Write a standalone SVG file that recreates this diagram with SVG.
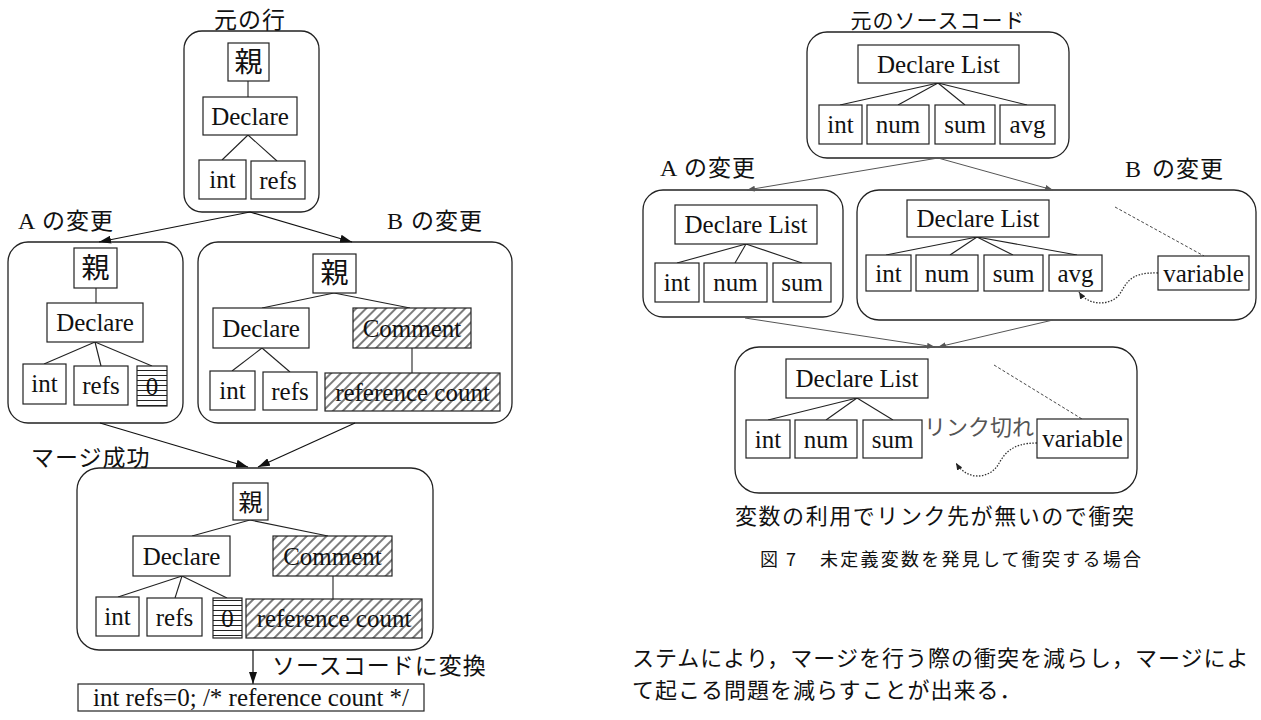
<svg xmlns="http://www.w3.org/2000/svg" width="1261" height="720" viewBox="0 0 1261 720">
<style>
.bg{fill:#fff}
.cont{fill:#fff;stroke:#222;stroke-width:1.3}
.box{fill:#fff;stroke:#222;stroke-width:1.2}
.hb{fill:url(#hatch);stroke:#222;stroke-width:1.2}
.sb{fill:url(#stripes);stroke:#222;stroke-width:1.2}
.t{font-family:"Liberation Serif","Times New Roman",serif;font-size:25px;text-anchor:middle;fill:#111}
.tl{font-family:"Liberation Serif","Times New Roman",serif;font-size:25px;fill:#111}
.kj{font-family:"Noto Sans CJK JP","Noto Sans CJK SC",sans-serif;font-size:28px;text-anchor:middle;fill:#111}
.jp{font-family:"Noto Sans CJK JP","Noto Sans CJK SC",sans-serif;font-size:23px;letter-spacing:1px;fill:#111}
.ln{stroke:#222;stroke-width:1.1;fill:none}
.arr{stroke:#111;stroke-width:1.2;fill:none;marker-end:url(#ah)}
.arr2{stroke:#555;stroke-width:1;fill:none;marker-end:url(#ah2)}
.dash{stroke:#333;stroke-width:0.9;stroke-dasharray:3 2;fill:none}
.dot{stroke:#333;stroke-width:1.3;stroke-dasharray:1.5 1.5;fill:none;marker-end:url(#ah3)}
</style>
<defs>
<pattern id="hatch" patternUnits="userSpaceOnUse" width="7" height="7" patternTransform="rotate(45)">
<rect width="7" height="7" fill="#fff"/>
<line x1="1" y1="0" x2="1" y2="7" stroke="#111" stroke-width="1.1"/>
</pattern>
<pattern id="stripes" patternUnits="userSpaceOnUse" width="6" height="5">
<rect width="6" height="5" fill="#fff"/>
<line x1="0" y1="0.5" x2="6" y2="0.5" stroke="#222" stroke-width="1"/>
</pattern>
<marker id="ah" viewBox="0 0 12 8" refX="12" refY="4" markerWidth="12" markerHeight="8" markerUnits="userSpaceOnUse" orient="auto"><path d="M0,0 L12,4 L0,8 z" fill="#111"/></marker>
<marker id="ah2" viewBox="0 0 8 6" refX="8" refY="3" markerWidth="8" markerHeight="6" markerUnits="userSpaceOnUse" orient="auto"><path d="M0,0 L8,3 L0,6 z" fill="#555"/></marker>
<marker id="ah3" viewBox="0 0 7 6" refX="7" refY="3" markerWidth="7" markerHeight="6" markerUnits="userSpaceOnUse" orient="auto"><path d="M0,0 L7,3 L0,6 z" fill="#222"/></marker>
</defs>
<rect class="bg" x="0" y="0" width="1261" height="720"/>

<!-- containers -->
<g id="L-orig"><rect class="cont" x="184" y="31" width="135" height="181" rx="18"/></g>
<g id="L-A"><rect class="cont" x="8" y="242" width="175" height="181" rx="20"/></g>
<g id="L-B"><rect class="cont" x="198" y="242" width="314" height="181" rx="20"/></g>
<g id="L-merge"><rect class="cont" x="77" y="468" width="356" height="182" rx="22"/></g>
<g id="R-orig"><rect class="cont" x="807" y="32" width="262" height="126" rx="20"/></g>
<g id="R-A"><rect class="cont" x="643" y="190" width="200" height="127" rx="20"/></g>
<g id="R-B"><rect class="cont" x="857" y="190" width="399" height="130" rx="22"/></g>
<g id="R-merge"><rect class="cont" x="735" y="347" width="402" height="146" rx="24"/></g>

<!-- connectors -->
<g id="connectors">
<line class="ln" x1="248" y1="81" x2="248" y2="97"/>
<line class="ln" x1="248" y1="135" x2="222" y2="160"/>
<line class="ln" x1="248" y1="135" x2="277" y2="161"/>
<line class="arr" x1="250" y1="212" x2="99" y2="242"/>
<line class="arr" x1="250" y1="212" x2="352" y2="242"/>
<line class="ln" x1="96" y1="288" x2="96" y2="303"/>
<line class="ln" x1="95" y1="342" x2="44" y2="364"/>
<line class="ln" x1="95" y1="342" x2="101" y2="366"/>
<line class="ln" x1="95" y1="342" x2="152" y2="366"/>
<line class="ln" x1="334" y1="293" x2="262" y2="308"/>
<line class="ln" x1="334" y1="293" x2="410" y2="308"/>
<line class="ln" x1="262" y1="348" x2="232" y2="371"/>
<line class="ln" x1="262" y1="348" x2="290" y2="372"/>
<line class="ln" x1="412" y1="348" x2="412" y2="373"/>
<line class="arr" x1="100" y1="423" x2="248" y2="467"/>
<line class="arr" x1="355" y1="423" x2="258" y2="467"/>
<line class="ln" x1="250" y1="520" x2="192" y2="536"/>
<line class="ln" x1="250" y1="520" x2="328" y2="536"/>
<line class="ln" x1="182" y1="576" x2="118" y2="597"/>
<line class="ln" x1="182" y1="576" x2="175" y2="598"/>
<line class="ln" x1="182" y1="576" x2="227" y2="598"/>
<line class="ln" x1="333" y1="576" x2="333" y2="599"/>
<line class="arr" x1="253" y1="650" x2="253" y2="684"/>

<line class="ln" x1="938" y1="83" x2="840" y2="105"/>
<line class="ln" x1="938" y1="83" x2="898" y2="105"/>
<line class="ln" x1="938" y1="83" x2="965" y2="105"/>
<line class="ln" x1="938" y1="83" x2="1027" y2="105"/>
<line class="arr2" x1="938" y1="158" x2="747" y2="190"/>
<line class="arr2" x1="938" y1="158" x2="1053" y2="190"/>
<line class="ln" x1="746" y1="244" x2="677" y2="263"/>
<line class="ln" x1="746" y1="244" x2="735" y2="263"/>
<line class="ln" x1="746" y1="244" x2="802" y2="263"/>
<line class="ln" x1="977" y1="237" x2="886" y2="255"/>
<line class="ln" x1="977" y1="237" x2="950" y2="255"/>
<line class="ln" x1="977" y1="237" x2="1013" y2="255"/>
<line class="ln" x1="977" y1="237" x2="1077" y2="255"/>
<line class="dash" x1="1115" y1="207" x2="1204" y2="256"/>
<path class="dot" d="M1158,273 C1128,272 1127,284 1119,295 C1110,306 1088,306 1079,292"/>
<line class="arr2" x1="745" y1="318" x2="935" y2="347"/>
<line class="arr2" x1="1053" y1="320" x2="938" y2="347"/>
<line class="ln" x1="857" y1="398" x2="768" y2="420"/>
<line class="ln" x1="857" y1="398" x2="826" y2="420"/>
<line class="ln" x1="857" y1="398" x2="893" y2="420"/>
<line class="dash" x1="994" y1="365" x2="1082" y2="419"/>
<path class="dot" d="M1037,443 C1010,443 1004,455 998,465 C990,478 968,482 956,463"/>
</g>

<!-- left: original -->
<g id="L-orig-parent"><rect class="box" x="228" y="43" width="41" height="38"/><text class="kj" x="248.5" y="72">親</text></g>
<g id="L-orig-declare"><rect class="box" x="203" y="97" width="94" height="38"/><text class="t" x="250" y="125">Declare</text></g>
<g id="L-orig-int"><rect class="box" x="199" y="160" width="47" height="39"/><text class="t" x="222.5" y="188">int</text></g>
<g id="L-orig-refs"><rect class="box" x="251" y="161" width="54" height="38"/><text class="t" x="278" y="189">refs</text></g>

<!-- left: A -->
<g id="L-A-parent"><rect class="box" x="74" y="248" width="43" height="40"/><text class="kj" x="95.5" y="278">親</text></g>
<g id="L-A-declare"><rect class="box" x="47" y="303" width="96" height="39"/><text class="t" x="95" y="331">Declare</text></g>
<g id="L-A-int"><rect class="box" x="23" y="364" width="43" height="40"/><text class="t" x="44.5" y="392">int</text></g>
<g id="L-A-refs"><rect class="box" x="74" y="366" width="54" height="39"/><text class="t" x="101" y="394">refs</text></g>
<g id="L-A-zero"><rect class="sb" x="137" y="366" width="30" height="40"/><text class="t" x="152" y="395">0</text></g>

<!-- left: B -->
<g id="L-B-parent"><rect class="box" x="313" y="254" width="43" height="39"/><text class="kj" x="334.5" y="283">親</text></g>
<g id="L-B-declare"><rect class="box" x="213" y="308" width="96" height="40"/><text class="t" x="261" y="337">Declare</text></g>
<g id="L-B-comment"><rect class="hb" x="353" y="308" width="118" height="40"/><text class="t" x="412" y="337">Comment</text></g>
<g id="L-B-int"><rect class="box" x="210" y="371" width="45" height="39"/><text class="t" x="232.5" y="399">int</text></g>
<g id="L-B-refs"><rect class="box" x="263" y="372" width="54" height="38"/><text class="t" x="290" y="400">refs</text></g>
<g id="L-B-refcount"><rect class="hb" x="325" y="373" width="175" height="38"/><text class="t" x="412.5" y="401">reference count</text></g>

<!-- left: merged -->
<g id="L-M-parent"><rect class="box" x="233" y="483" width="35" height="37"/><text class="kj" x="250.5" y="511" style="font-size:24px">親</text></g>
<g id="L-M-declare"><rect class="box" x="133" y="536" width="97" height="40"/><text class="t" x="181.5" y="565">Declare</text></g>
<g id="L-M-comment"><rect class="hb" x="273" y="536" width="119" height="40"/><text class="t" x="332.5" y="565">Comment</text></g>
<g id="L-M-int"><rect class="box" x="96" y="597" width="43" height="39"/><text class="t" x="117.5" y="625">int</text></g>
<g id="L-M-refs"><rect class="box" x="147" y="598" width="55" height="38"/><text class="t" x="174.5" y="626">refs</text></g>
<g id="L-M-zero"><rect class="sb" x="213" y="598" width="29" height="40"/><text class="t" x="227.5" y="627">0</text></g>
<g id="L-M-refcount"><rect class="hb" x="246" y="599" width="176" height="39"/><text class="t" x="334" y="627">reference count</text></g>

<g id="L-code"><rect class="box" x="78" y="684" width="346" height="27"/><text class="t" x="251" y="706">int refs=0; /* reference count */</text></g>

<!-- left labels -->
<g id="L-labels">
<text class="jp" x="250" y="28" text-anchor="middle">元の行</text>
<text class="tl" x="18" y="229" style="font-size:24px">A</text><text class="jp" x="42" y="229">の変更</text>
<text class="tl" x="387" y="229" style="font-size:24px">B</text><text class="jp" x="411" y="229">の変更</text>
<text class="jp" x="31" y="466">マージ成功</text>
<text class="jp" x="272" y="674">ソースコードに変換</text>
</g>

<!-- right: original -->
<g id="R-orig-list"><rect class="box" x="858" y="45" width="161" height="38"/><text class="t" x="938.5" y="73">Declare List</text></g>
<g id="R-orig-int"><rect class="box" x="819" y="105" width="43" height="39"/><text class="t" x="840.5" y="133">int</text></g>
<g id="R-orig-num"><rect class="box" x="867" y="105" width="62" height="39"/><text class="t" x="898" y="133">num</text></g>
<g id="R-orig-sum"><rect class="box" x="935" y="105" width="60" height="39"/><text class="t" x="965" y="133">sum</text></g>
<g id="R-orig-avg"><rect class="box" x="1000" y="105" width="55" height="39"/><text class="t" x="1027.5" y="133">avg</text></g>

<!-- right: A -->
<g id="R-A-list"><rect class="box" x="675" y="205" width="142" height="39"/><text class="t" x="746" y="233">Declare List</text></g>
<g id="R-A-int"><rect class="box" x="655" y="263" width="44" height="39"/><text class="t" x="677" y="291">int</text></g>
<g id="R-A-num"><rect class="box" x="704" y="263" width="63" height="39"/><text class="t" x="735.5" y="291">num</text></g>
<g id="R-A-sum"><rect class="box" x="773" y="263" width="58" height="39"/><text class="t" x="802" y="291">sum</text></g>

<!-- right: B -->
<g id="R-B-list"><rect class="box" x="907" y="200" width="142" height="37"/><text class="t" x="978" y="227">Declare List</text></g>
<g id="R-B-int"><rect class="box" x="866" y="255" width="45" height="36"/><text class="t" x="888.5" y="282">int</text></g>
<g id="R-B-num"><rect class="box" x="916" y="255" width="62" height="36"/><text class="t" x="947" y="282">num</text></g>
<g id="R-B-sum"><rect class="box" x="984" y="255" width="59" height="36"/><text class="t" x="1013.5" y="282">sum</text></g>
<g id="R-B-avg"><rect class="box" x="1049" y="255" width="53" height="36"/><text class="t" x="1075.5" y="282">avg</text></g>
<g id="R-B-variable"><rect class="box" x="1158" y="256" width="91" height="34"/><text class="t" x="1203.5" y="282">variable</text></g>

<!-- right: merged -->
<g id="R-M-list"><rect class="box" x="786" y="359" width="142" height="39"/><text class="t" x="857" y="387">Declare List</text></g>
<g id="R-M-int"><rect class="box" x="746" y="420" width="44" height="38"/><text class="t" x="768" y="448">int</text></g>
<g id="R-M-num"><rect class="box" x="795" y="420" width="62" height="38"/><text class="t" x="826" y="448">num</text></g>
<g id="R-M-sum"><rect class="box" x="863" y="420" width="59" height="38"/><text class="t" x="892.5" y="448">sum</text></g>
<g id="R-M-variable"><rect class="box" x="1037" y="419" width="91" height="39"/><text class="t" x="1082.5" y="447">variable</text></g>

<!-- right labels -->
<g id="R-labels">
<text class="jp" x="938" y="28" text-anchor="middle" style="font-size:21px">元のソースコード</text>
<text class="tl" x="660" y="176" style="font-size:24px">A</text><text class="jp" x="684" y="176">の変更</text>
<text class="tl" x="1125" y="177" style="font-size:24px">B</text><text class="jp" x="1152" y="177">の変更</text>
<text class="jp" x="924" y="435" style="font-size:22px;fill:#555;letter-spacing:0">リンク切れ</text>
<text class="jp" x="735" y="524" textLength="400" lengthAdjust="spacing" style="font-size:22px">変数の利用でリンク先が無いので衝突</text>
<text class="jp" x="760" y="566" style="font-size:18px;letter-spacing:0">図</text>
<text class="jp" x="786" y="566" style="font-size:18px;letter-spacing:0">7</text>
<text class="jp" x="820" y="566" textLength="322" lengthAdjust="spacing" style="font-size:18px">未定義変数を発見して衝突する場合</text>
</g>

<!-- body text -->
<g id="body">
<text class="jp" x="632" y="666" style="font-size:22px;letter-spacing:1px">ステムにより，マージを行う際の衝突を減らし，マージによ</text>
<text class="jp" x="632" y="698" style="font-size:22px;letter-spacing:1px">て起こる問題を減らすことが出来る．</text>
</g>
</svg>
